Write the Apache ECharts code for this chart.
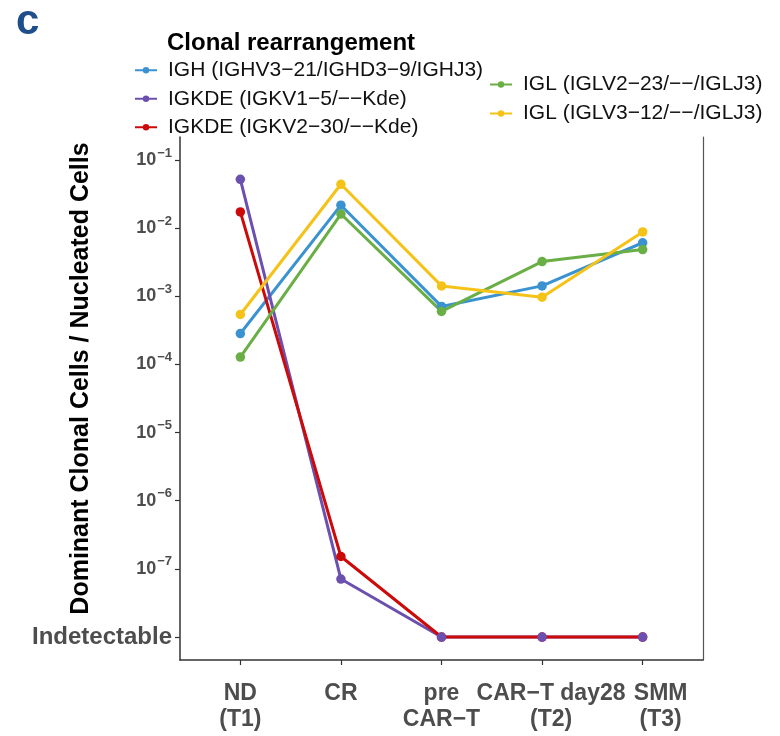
<!DOCTYPE html>
<html><head><meta charset="utf-8">
<script src="https://cdn.jsdelivr.net/npm/echarts@6/dist/echarts.min.js"></script>
<style>html,body{margin:0;padding:0;background:#fff}#c{width:780px;height:736px}</style>
</head><body><div id="c"></div>
<script>
// ---- data ----
const timepoints = ['ND\n(T1)', 'CR', 'pre\nCAR−T', 'CAR−T day28\n(T2)', 'SMM\n(T3)'];
const seriesNames = [
  'IGH (IGHV3−21/IGHD3−9/IGHJ3)',
  'IGKDE (IGKV1−5/−−Kde)',
  'IGKDE (IGKV2−30/−−Kde)',
  'IGL (IGLV2−23/−−/IGLJ3)',
  'IGL (IGLV3−12/−−/IGLJ3)'
];
const IGH        = [2.84e-4, 2.17e-2, 7.1e-4, 1.42e-3, 6.1e-3];
const IGKDE_V1_5 = [5.2e-2, 7.1e-8, 1e-8, 1e-8, 1e-8];
const IGKDE_V2_30= [1.73e-2, 1.52e-7, 1e-8, 1e-8, 1e-8];
const IGL_V2_23  = [1.28e-4, 1.61e-2, 6.0e-4, 3.23e-3, 4.84e-3];
const IGL_V3_12  = [5.4e-4, 4.4e-2, 1.42e-3, 9.7e-4, 8.8e-3];
const yTickExponents = [-8, -7, -6, -5, -4, -3, -2, -1];
const indetectableLabel = 'Indetectable';
const yLogMin = -8.337, yLogMax = -0.663;

const colors = ['#3A92D1', '#6C50B0', '#CC0A0A', '#6AAE46', '#F5C318'];
const values = [IGH, IGKDE_V1_5, IGKDE_V2_30, IGL_V2_23, IGL_V3_12];
const xIdx = timepoints.map((_, i) => i);
// label groups (one x axis each, so that neighbouring labels are never auto-hidden)
const labelGroups = [[0, 2], [1], [3], [4]];
const labelShift = [0, 0, 18, 36];

const lineSeries = values.map((arr, k) => ({
  name: seriesNames[k], type: 'line', xAxisIndex: 0, yAxisIndex: 0,
  data: arr.map((v, i) => [i, v]),
  symbol: 'circle', symbolSize: 9, showSymbol: false,
  lineStyle: { width: 3, color: colors[k] }, itemStyle: { color: colors[k] },
  z: 2, animation: false, silent: true
}));
const pointOrder = [0, 2, 3, 4, 1];
const pointSeries = pointOrder.map(k => ({
  name: 'pts' + k, type: 'scatter', xAxisIndex: 0, yAxisIndex: 0,
  data: values[k].map((v, i) => [i, v]),
  symbol: 'circle', symbolSize: 9.5,
  itemStyle: { color: colors[k], opacity: 1 }, z: 3, animation: false, silent: true
}));

const xAxes = labelGroups.map((grp, g) => ({
  type: 'value', min: -0.6, max: 4.6, position: 'bottom', offset: 0,
  axisLine: { show: g === 0, onZero: false, lineStyle: { color: '#333', width: 1.5 } },
  axisTick: { show: g === 0, length: 5, lineStyle: { color: '#333', width: 1.2 }, customValues: xIdx },
  axisLabel: { customValues: grp, margin: 21, hideOverlap: false, showMinLabel: true, showMaxLabel: true,
    formatter: v => timepoints[Math.round(v)], padding: [0, 0, 0, labelShift[g]],
    fontFamily: 'Liberation Sans', fontSize: 23, fontWeight: 'bold', color: '#4D4D4D', lineHeight: 26 },
  splitLine: { show: false }
}));

const chart = echarts.init(document.getElementById('c'), null, { renderer: 'canvas' });
chart.setOption({
  backgroundColor: '#ffffff',
  animation: false,
  title: [
    { text: 'c', left: 11, top: -4, textStyle: { fontFamily: 'Liberation Sans', fontSize: 42, fontWeight: 'bold', color: '#1F4E8A' } },
    { text: 'Clonal rearrangement', left: 162, top: 26, textStyle: { fontFamily: 'Liberation Sans', fontSize: 24, fontWeight: 'bold', color: '#000' } }
  ],
  legend: [
    { data: seriesNames.slice(0, 3), orient: 'vertical', left: 134, top: 56, padding: 0, itemGap: 0,
      itemWidth: 22, itemHeight: 8,
      textStyle: { fontFamily: 'Liberation Sans', fontSize: 21, color: '#111', lineHeight: 28.5, padding: [0, 0, 0, 6] } },
    { data: seriesNames.slice(3), orient: 'vertical', left: 489, top: 70, padding: 0, itemGap: 0,
      itemWidth: 22, itemHeight: 8,
      textStyle: { fontFamily: 'Liberation Sans', fontSize: 21, color: '#111', lineHeight: 29, padding: [0, 0, 0, 6] } }
  ],
  grid: { left: 180, right: 77, top: 137, bottom: 76, containLabel: false, outerBoundsMode: 'none' },
  xAxis: xAxes,
  yAxis: [
    { type: 'log', logBase: 10, min: Math.pow(10, yLogMin), max: Math.pow(10, yLogMax), position: 'left',
      axisLine: { show: true, onZero: false, lineStyle: { color: '#333', width: 1.5 } },
      axisTick: { show: false }, axisLabel: { show: false }, splitLine: { show: false } },
    { type: 'value', min: yLogMin, max: yLogMax, position: 'left', offset: 0,
      name: 'Dominant Clonal Cells / Nucleated Cells', nameLocation: 'middle', nameGap: 86, nameMoveOverlap: false,
      nameTextStyle: { fontFamily: 'Liberation Sans', fontSize: 25, fontWeight: 'bold', color: '#000', padding: [0, 0, 0, 40] },
      axisLine: { show: false, onZero: false },
      axisTick: { show: true, length: 5, lineStyle: { color: '#333', width: 1.2 }, customValues: yTickExponents },
      axisLabel: { customValues: yTickExponents, margin: 8, hideOverlap: false, showMinLabel: true, showMaxLabel: true,
        formatter: v => {
          const e = Math.round(v);
          if (e === -8) return '{ind|' + indetectableLabel + '}';
          return '{b|10}{s|' + String(e).replace('-', '−') + '}';
        },
        rich: {
          ind: { fontFamily: 'Liberation Sans', fontSize: 24, fontWeight: 'bold', color: '#4D4D4D' },
          b: { fontFamily: 'Liberation Sans', fontSize: 18, fontWeight: 'bold', color: '#4D4D4D' },
          s: { fontFamily: 'Liberation Sans', fontSize: 13, fontWeight: 'bold', color: '#4D4D4D', padding: [0, 0, 14, 1] }
        } },
      splitLine: { show: false } },
    { type: 'value', min: 0, max: 1, position: 'right',
      axisLine: { show: true, onZero: false, lineStyle: { color: '#555', width: 1.2 } },
      axisTick: { show: false }, axisLabel: { show: false }, splitLine: { show: false } }
  ],
  series: lineSeries.concat(pointSeries)
});
</script></body></html>
